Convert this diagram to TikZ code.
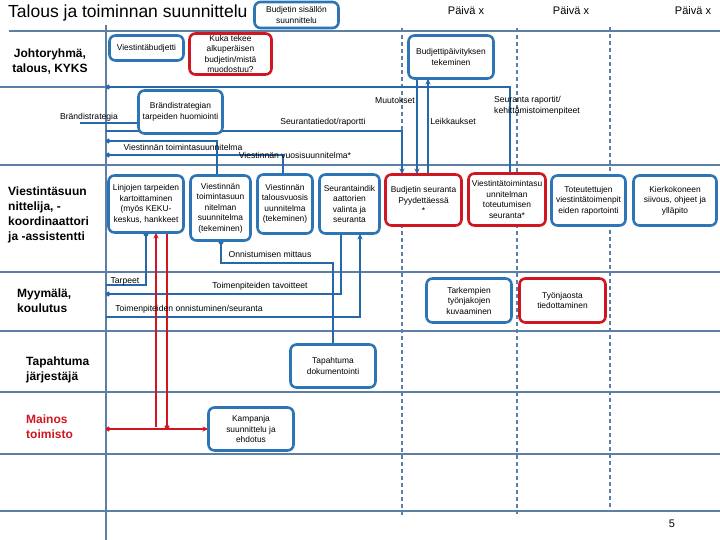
\documentclass[tikz,border=0pt]{standalone}
\usepackage{fontspec}
\setmainfont{Liberation Sans}
\usetikzlibrary{arrows.meta}
\definecolor{boxblue}{RGB}{46,117,182}
\definecolor{lineblue}{RGB}{38,104,170}
\definecolor{lanecol}{RGB}{92,127,166}
\definecolor{myred}{RGB}{208,22,32}
\pgfdeclarelayer{bg}
\pgfsetlayers{bg,main}
\tikzset{
  bx/.style={draw=boxblue, line width=2.6pt, rounded corners=6pt, fill=white,
    align=center, inner sep=1pt, outer sep=0pt, font=\fontsize{8.4}{10.5}\selectfont},
  rbx/.style={bx, draw=myred},
  conn/.style={draw=lineblue, line width=1.8pt},
  rconn/.style={draw=myred, line width=1.8pt},
  lane/.style={draw=lanecol, line width=1.8pt},
  vdash/.style={draw=lanecol, line width=1.8pt, dash pattern=on 4pt off 3pt},
  lbl/.style={font=\fontsize{8.6}{10.8}\selectfont, inner sep=0pt},
  lanelbl/.style={font=\bfseries\fontsize{12}{15}\selectfont, inner sep=0pt, align=left},
  arr/.style={-{Stealth[length=6pt,width=5pt]}},
  dotend/.style={-{Circle[length=4.5pt]}},
  dotstart/.style={{Circle[length=4.5pt]}-},
}
\begin{document}
\begin{tikzpicture}[x=1pt,y=-1pt]
\begin{pgfonlayer}{bg}
\fill[white] (0,0) rectangle (720,540);
\end{pgfonlayer}
\useasboundingbox (0,0) rectangle (720,540);

% title and headers
\node[anchor=base west, font=\fontsize{17.5}{20}\selectfont, inner sep=0pt] (title) at (8,18) {Talous ja toiminnan suunnittelu};
\node[anchor=base, font=\fontsize{11}{13}\selectfont, inner sep=0pt] (p1) at (466,15) {Päivä x};
\node[anchor=base, font=\fontsize{11}{13}\selectfont, inner sep=0pt] (p2) at (571,15) {Päivä x};
\node[anchor=base, font=\fontsize{11}{13}\selectfont, inner sep=0pt] (p3) at (693,15) {Päivä x};

% boxes
\node[bx, minimum width=74pt, minimum height=25pt] (b1) at (146.5,48) {Viestintäbudjetti};
\node[rbx, minimum width=82pt, minimum height=41pt] (b2) at (230.5,54) {Kuka tekee\\alkuperäisen\\budjetin/mistä\\muodostuu?};
\node[bx, minimum width=84pt, minimum height=26pt] (b3) at (296.5,15) {Budjetin sisällön\\suunnittelu};
\node[bx, minimum width=85pt, minimum height=43pt] (b4) at (451,57) {Budjettipäivityksen\\tekeminen};
\node[bx, minimum width=84pt, minimum height=43pt] (b5) at (180.5,112) {Brändistrategian\\tarpeiden huomiointi};
\node[bx, minimum width=75pt, minimum height=57pt] (b6) at (146,204) {Linjojen tarpeiden\\kartoittaminen\\(myös KEKU-\\keskus, hankkeet};
\node[bx, minimum width=60pt, minimum height=65pt] (b7) at (220.5,208) {Viestinnän\\toimintasuun\\nitelman\\suunnitelma\\(tekeminen)};
\node[bx, minimum width=55pt, minimum height=59pt] (b8) at (285,204) {Viestinnän\\talousvuosis\\uunnitelma\\(tekeminen)};
\node[bx, minimum width=60pt, minimum height=59pt] (b9) at (349.5,204) {Seurantaindik\\aattorien\\valinta ja\\seuranta};
\node[rbx, minimum width=76pt, minimum height=51pt] (b10) at (423.5,200) {Budjetin seuranta\\Pyydettäessä\\*};
\node[rbx, minimum width=77pt, minimum height=52pt] (b11) at (507,199.5) {Viestintätoimintasu\\unnitelman\\toteutumisen\\seuranta*};
\node[bx, minimum width=74pt, minimum height=50pt] (b12) at (588.5,200.5) {Toteutettujen\\viestintätoimenpit\\eiden raportointi};
\node[bx, minimum width=83pt, minimum height=50pt] (b13) at (675,200.5) {Kierkokoneen\\siivous, ohjeet ja\\ylläpito};
\node[bx, minimum width=85pt, minimum height=44pt] (b14) at (469,300.5) {Tarkempien\\työnjakojen\\kuvaaminen};
\node[rbx, minimum width=86pt, minimum height=44pt] (b15) at (562.5,300.5) {Työnjaosta\\tiedottaminen};
\node[bx, minimum width=85pt, minimum height=43pt] (b16) at (333,366) {Tapahtuma\\dokumentointi};
\node[bx, minimum width=85pt, minimum height=43pt] (b17) at (251,429) {Kampanja\\suunnittelu ja\\ehdotus};

% connector coordinates
\coordinate (d87) at (106,87);
\coordinate (d131) at (106,131);
\coordinate (d141) at (106,141);
\coordinate (d155) at (106,155);
\coordinate (d285) at (106,285);
\coordinate (d294) at (106,294);
\coordinate (d317) at (106,317);
\coordinate (d429) at (106,429);
\coordinate (bs) at (80,123);
\coordinate (c263) at (221,263);
\coordinate (j429) at (167,429);
\coordinate (r156) at (156,427);

\begin{pgfonlayer}{bg}
% lane lines
\draw[lane] (9,31) -- (720,31);
\draw[lane] (0,87) -- (106,87);
\foreach \yy in {165,272,331,392,454,511} {\draw[lane] (0,\yy) -- (720,\yy);}
\draw[lane] (106,25) -- (106,540);
% dashed day separators
\draw[vdash] (402,28) -- (402,515);
\draw[vdash] (517,28) -- (517,514);
\draw[vdash] (610,27) -- (610,507);

% connectors (behind boxes)
\draw[conn, dotstart] (d87) -| ([xshift=3pt]b11.north);
\draw[conn, arr] (d131) -| ([xshift=-21.5pt]b10.north);
\draw[conn, arr] ([xshift=-34pt]b4.south) -- ([xshift=-6.5pt]b10.north);
\draw[conn, arr] ([xshift=4.5pt]b10.north) -- ([xshift=-23pt]b4.south);
\draw[conn, dotstart] (d141) -| ([xshift=-3.5pt]b7.north);
\draw[conn, dotstart] (d155) -| ([xshift=-2pt]b8.north);
\draw[conn, dotend] (d285) -| (b6.south);
\draw[conn, dotstart] ([xshift=0.5pt]b7.south) -- (c263) -| (b16.north);
\draw[conn, dotend] ([xshift=-8.5pt]b9.south) |- (d294);
\draw[conn, arr] (d317) -| ([xshift=10.5pt]b9.south);
\draw[conn] (bs) -- (bs -| b5.west);
\draw[rconn, {Circle[length=4.5pt]}-{Stealth[length=6pt,width=5pt]}] (d429) -- (b17.west);
\draw[rconn, dotstart] (j429) -- (j429 |- b6.south);
\draw[rconn, arr] (r156) -- (r156 |- b6.south);
\end{pgfonlayer}

% connector labels
\node[lbl] (l1) at (89,117) {Brändistrategia};
\node[lbl] (l2) at (323,122) {Seurantatiedot/raportti};
\node[lbl] (l3) at (395,100) {Muutokset};
\node[lbl] (l4) at (453,121) {Leikkaukset};
\node[lbl, anchor=west, align=left] (l5) at (494,106) {Seuranta raportit/\\kehittämistoimenpiteet};
\node[lbl] (l6) at (183,147) {Viestinnän toimintasuunnitelma};
\node[lbl] (l7) at (295,155) {Viestinnän vuosisuunnitelma*};
\node[lbl] (l8) at (125,281) {Tarpeet};
\node[lbl] (l9) at (270,254) {Onnistumisen mittaus};
\node[lbl] (l10) at (260,286) {Toimenpiteiden tavoitteet};
\node[lbl] (l11) at (189,309) {Toimenpiteiden onnistuminen/seuranta};

% lane labels
\node[lanelbl, align=center] (lj) at (50,62) {Johtoryhmä,\\talous, KYKS};
\node[lanelbl, anchor=west] (lv) at (8,215) {Viestintäsuun\\nittelija, -\\koordinaattori\\ja -assistentti};
\node[lanelbl, anchor=west] (lm) at (17,300.5) {Myymälä,\\koulutus};
\node[lanelbl, anchor=west] (lt) at (26,369.5) {Tapahtuma\\järjestäjä};
\node[lanelbl, anchor=west, text=myred] (lmt) at (26,427) {Mainos\\toimisto};

\node[anchor=base, font=\fontsize{11}{13}\selectfont, inner sep=0pt] (pg) at (672,527) {5};
\end{tikzpicture}
\end{document}
